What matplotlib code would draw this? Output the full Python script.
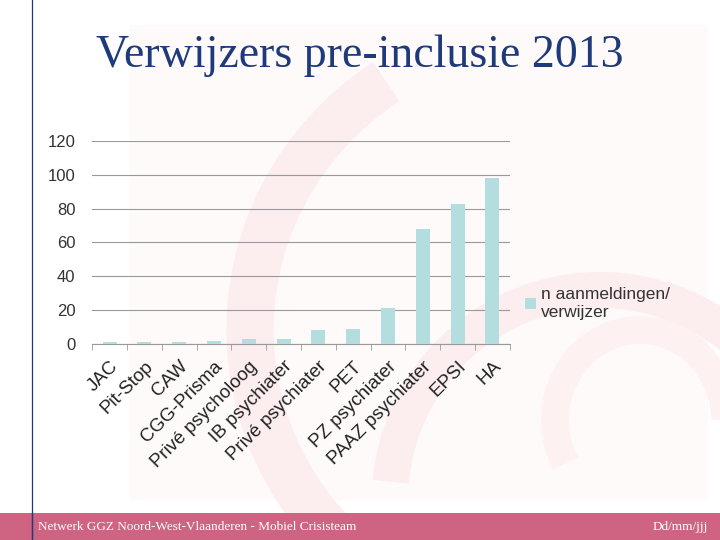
import numpy as np
import matplotlib.pyplot as plt
from matplotlib.patches import Rectangle, Arc

verwijzers = ['JAC', 'Pit-Stop', 'CAW', 'CGG-Prisma', 'Privé psycholoog',
              'IB psychiater', 'Privé psychiater', 'PET', 'PZ psychiater',
              'PAAZ psychiater', 'EPSI', 'HA']
aanmeldingen = [1, 1, 1, 2, 3, 3, 8, 9, 21, 68, 83, 98]
yticks = [0, 20, 40, 60, 80, 100, 120]

plt.rcParams['font.family'] = ['Liberation Sans', 'DejaVu Sans']

fig = plt.figure(figsize=(7.2, 5.4), dpi=100)

# faint watermark swirl in the background
bg = fig.add_axes([0, 0, 1, 1], zorder=-10)
bg.set_xlim(0, 720)
bg.set_ylim(540, 0)
bg.axis('off')
bg.add_patch(Rectangle((130, 25), 578, 475, color='#fefafa', lw=0))
bg.add_patch(Arc((560, 330), 620, 600, angle=0, theta1=120, theta2=235,
                 color='#fcedef', lw=34))
bg.add_patch(Arc((600, 500), 420, 420, angle=0, theta1=185, theta2=330,
                 color='#fcedef', lw=26))
bg.add_patch(Arc((640, 420), 170, 180, angle=0, theta1=150, theta2=360,
                 color='#fdf1f2', lw=20))

# left rule and footer band
bg.plot([32, 32], [0, 540], color='#1f3a7a', lw=0.9)
bg.add_patch(Rectangle((0, 513), 720, 27, color='#cf6482', lw=0))
bg.plot([32, 32], [513, 540], color='#1f3a7a', lw=0.9)
bg.text(38, 527, 'Netwerk GGZ Noord-West-Vlaanderen - Mobiel Crisisteam',
        family='Liberation Serif', fontsize=9.5, color='white', va='center')
bg.text(708, 527, 'Dd/mm/jjj', family='Liberation Serif', fontsize=9.5,
        color='white', va='center', ha='right')
bg.text(360, 56, 'Verwijzers pre-inclusie 2013', family='Liberation Serif',
        fontsize=33, color='#1f3a7a', va='center', ha='center')

ax = fig.add_axes([0.128, 0.363, 0.58, 0.376])
ax.patch.set_alpha(0)
x = np.arange(len(verwijzers))
ax.bar(x, aanmeldingen, width=0.4, color='#b4dde0', zorder=3,
       label='n aanmeldingen/\nverwijzer')
ax.set_ylim(0, 120)
ax.set_xlim(-0.5, len(verwijzers) - 0.5)
ax.set_yticks(yticks)
ax.tick_params(axis='y', length=0, labelsize=12, colors='#333333', pad=12)
ax.yaxis.grid(True, color='#999999', lw=0.8, zorder=0)
ax.set_xticks(x)
ax.set_xticklabels(verwijzers, rotation=45, ha='right',
                   rotation_mode='anchor', fontsize=13.5, color='#222222')
ax.tick_params(axis='x', length=0, pad=10)
ax.set_xticks(np.arange(-0.5, len(verwijzers)), minor=True)
ax.tick_params(axis='x', which='minor', length=4, color='#999999')
for s in ['left', 'right', 'top']:
    ax.spines[s].set_visible(False)
ax.spines['bottom'].set_color('#999999')

ax.legend(loc='center left', bbox_to_anchor=(1.0, 0.2), frameon=False,
          fontsize=12.5, handlelength=0.6, handleheight=0.6, handletextpad=0.3,
          labelcolor='#333333')

fig.savefig('out.png', dpi=100)
